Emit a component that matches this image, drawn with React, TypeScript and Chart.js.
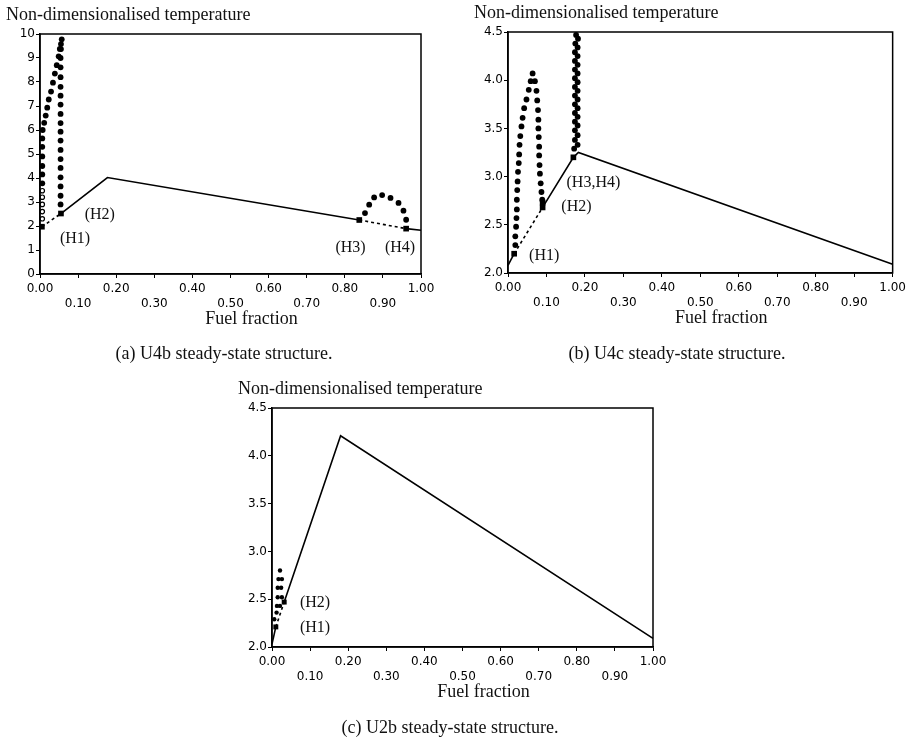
import React, { useEffect, useRef } from "react";
import { Chart, registerables } from "chart.js";

Chart.register(...registerables);

type Pt = [number, number];

// ---------- shared text ----------
const X_TICK_LABELS = ["0.00", "0.10", "0.20", "0.30", "0.40", "0.50", "0.60", "0.70", "0.80", "0.90", "1.00"];
const A_Y_TICK_LABELS = ["0", "1", "2", "3", "4", "5", "6", "7", "8", "9", "10"];
const BC_Y_TICK_LABELS = ["2.0", "2.5", "3.0", "3.5", "4.0", "4.5"];
const Y_TITLE = "Non-dimensionalised temperature";
const X_TITLE = "Fuel fraction";
const CAPTION_A = "(a) U4b steady-state structure.";
const CAPTION_B = "(b) U4c steady-state structure.";
const CAPTION_C = "(c) U2b steady-state structure.";

// ---------- (a) U4b ----------
const A_SOLID_1: Pt[] = [[0.055, 2.52], [0.177, 4.02], [0.838, 2.25]];
const A_SOLID_2: Pt[] = [[0.961, 1.89], [1.0, 1.82]];
const A_DASH_1: Pt[] = [[0.005, 1.97], [0.055, 2.52]];
const A_DASH_2: Pt[] = [[0.838, 2.25], [0.961, 1.89]];
const A_SQUARES: Pt[] = [[0.005, 1.97], [0.055, 2.52], [0.838, 2.25], [0.961, 1.89]];
const A_HOLLOW: Pt[] = [[0.006, 2.3], [0.006, 2.6], [0.006, 2.9], [0.006, 3.2], [0.006, 3.47]];
const A_LOOP: Pt[] = [
  [0.006, 3.78], [0.006, 4.15], [0.006, 4.5], [0.006, 4.9], [0.006, 5.3], [0.006, 5.65], [0.007, 6.0],
  [0.011, 6.3], [0.015, 6.6], [0.019, 6.93], [0.023, 7.27], [0.029, 7.6], [0.034, 7.97], [0.039, 8.35],
  [0.044, 8.7], [0.049, 9.07], [0.052, 9.38], [0.055, 9.58], [0.057, 9.78],
  [0.055, 9.37], [0.054, 9.0], [0.054, 8.61], [0.054, 8.2], [0.054, 7.8], [0.054, 7.43], [0.054, 7.06],
  [0.054, 6.67], [0.054, 6.29], [0.054, 5.93], [0.054, 5.56], [0.054, 5.17], [0.054, 4.79], [0.054, 4.42],
  [0.054, 4.03], [0.054, 3.65], [0.054, 3.26], [0.054, 2.9],
];
const A_ARC: Pt[] = [
  [0.853, 2.54], [0.864, 2.89], [0.877, 3.19], [0.898, 3.29], [0.92, 3.17],
  [0.941, 2.96], [0.954, 2.64], [0.961, 2.26],
];
const A_LABEL_TEXT = ["(H1)", "(H2)", "(H3)", "(H4)"];
const A_LABEL_POS: Pt[] = [[0.092, 1.47], [0.157, 2.47], [0.815, 1.1], [0.945, 1.1]];

// ---------- (b) U4c ----------
const B_SOLID_1: Pt[] = [[0.0, 2.08], [0.016, 2.2]];
const B_DASH: Pt[] = [[0.016, 2.2], [0.09, 2.68]];
const B_SOLID_2: Pt[] = [[0.09, 2.68], [0.17, 3.2], [0.183, 3.25], [1.0, 2.09]];
const B_SQUARES: Pt[] = [[0.016, 2.2], [0.09, 2.68], [0.09, 2.73], [0.17, 3.2]];
const B_LOOP: Pt[] = [
  [0.019, 2.29], [0.019, 2.38], [0.021, 2.48], [0.022, 2.57], [0.023, 2.66], [0.023, 2.76], [0.024, 2.86],
  [0.025, 2.95], [0.026, 3.05], [0.028, 3.14], [0.029, 3.23], [0.03, 3.33], [0.032, 3.42], [0.035, 3.52],
  [0.038, 3.61], [0.042, 3.71], [0.048, 3.8], [0.054, 3.9], [0.059, 3.99], [0.064, 4.07], [0.07, 3.99],
  [0.074, 3.89], [0.076, 3.79], [0.078, 3.69], [0.079, 3.59], [0.079, 3.5], [0.08, 3.41], [0.081, 3.31],
  [0.081, 3.22], [0.082, 3.12], [0.083, 3.03], [0.085, 2.93], [0.087, 2.84], [0.089, 2.76],
];
const B_COLUMN: Pt[] = [
  [0.172, 3.29], [0.181, 3.33], [0.174, 3.38], [0.181, 3.43], [0.174, 3.48], [0.181, 3.53], [0.174, 3.57],
  [0.181, 3.62], [0.174, 3.66], [0.181, 3.71], [0.174, 3.75], [0.181, 3.8], [0.174, 3.84], [0.181, 3.89],
  [0.174, 3.93], [0.181, 3.98], [0.174, 4.02], [0.181, 4.07], [0.174, 4.11], [0.181, 4.16], [0.174, 4.2],
  [0.181, 4.25], [0.174, 4.29], [0.181, 4.34], [0.175, 4.38], [0.182, 4.43], [0.177, 4.47],
];
const B_LABEL_TEXT = ["(H1)", "(H2)", "(H3,H4)"];
const B_LABEL_POS: Pt[] = [[0.094, 2.18], [0.178, 2.69], [0.222, 2.94]];

// ---------- (c) U2b ----------
const C_SOLID_1: Pt[] = [[0.0, 2.03], [0.01, 2.21]];
const C_DASH: Pt[] = [[0.01, 2.21], [0.032, 2.47]];
const C_SOLID_2: Pt[] = [[0.032, 2.47], [0.18, 4.21], [1.0, 2.09]];
const C_SQUARES: Pt[] = [[0.01, 2.21], [0.032, 2.47]];
const C_LOOP: Pt[] = [
  [0.006, 2.29], [0.012, 2.36], [0.013, 2.43], [0.021, 2.43], [0.015, 2.52], [0.026, 2.52],
  [0.015, 2.62], [0.024, 2.62], [0.017, 2.71], [0.026, 2.71], [0.021, 2.8],
];
const C_LABEL_TEXT = ["(H1)", "(H2)"];
const C_LABEL_POS: Pt[] = [[0.113, 2.2], [0.113, 2.46]];

// ---------- helpers ----------
const toXY = (a: Pt[]) => a.map(([x, y]) => ({ x, y }));

const lineSet = (a: Pt[], dashed = false) => ({
  data: toXY(a),
  showLine: true,
  borderColor: "#000",
  borderWidth: 1.6,
  borderDash: dashed ? [3, 3] : [],
  pointRadius: 0,
  fill: false,
  tension: 0,
  clip: false as const,
});

const dotSet = (a: Pt[], r: number, hollow = false) => ({
  data: toXY(a),
  showLine: false,
  pointStyle: "circle",
  pointRadius: r,
  pointBackgroundColor: hollow ? "#fff" : "#000",
  pointBorderColor: "#000",
  pointBorderWidth: hollow ? 1.2 : 0,
  clip: false as const,
});

const squareSet = (a: Pt[], r: number) => ({
  data: toXY(a),
  showLine: false,
  pointStyle: "rect",
  pointRadius: r,
  pointBackgroundColor: "#000",
  pointBorderWidth: 0,
  clip: false as const,
});

const serif = '"Liberation Serif", "Times New Roman", serif';

const figText = {
  id: "figText",
  afterDraw(chart: any, _args: any, opts: any) {
    const { ctx, chartArea: ca, scales } = chart;
    ctx.save();
    ctx.strokeStyle = "#000";
    ctx.lineWidth = 1.5;
    ctx.strokeRect(ca.left, ca.top, ca.right - ca.left, ca.bottom - ca.top);
    ctx.fillStyle = "#111";
    ctx.font = `16px ${serif}`;
    ctx.textAlign = "center";
    ctx.textBaseline = "middle";
    (opts.texts as string[]).forEach((t, i) => {
      const [x, y] = opts.pos[i];
      ctx.fillText(t, scales.x.getPixelForValue(x), scales.y.getPixelForValue(y));
    });
    ctx.textBaseline = "alphabetic";
    ctx.textAlign = "left";
    ctx.font = `18px ${serif}`;
    ctx.fillText(Y_TITLE, ca.left - 34, ca.top - 14);
    ctx.textAlign = "center";
    ctx.font = `18px ${serif}`;
    ctx.fillText(X_TITLE, (ca.left + ca.right) / 2 + 21, ca.bottom + 50);
    ctx.fillText(opts.caption, opts.capX, opts.capY);
    ctx.restore();
  },
};

const tickFont = { family: '"DejaVu Sans", sans-serif', size: 12, lineHeight: 1.25 };

function makeConfig(
  datasets: any[],
  yMin: number,
  yMax: number,
  yStep: number,
  yLabels: string[],
  padding: { left: number; right: number; top: number; bottom: number },
  textOpts: any
) {
  return {
    type: "scatter" as const,
    data: { datasets },
    options: {
      responsive: false,
      animation: false as const,
      devicePixelRatio: 1,
      layout: { padding },
      events: [] as any[],
      plugins: {
        legend: { display: false },
        tooltip: { enabled: false },
        figText: textOpts,
      },
      scales: {
        x: {
          type: "linear" as const,
          min: 0,
          max: 1,
          afterFit: (s: any) => {
            s.height = 52;
          },
          border: { display: true, color: "#000", width: 1.5 },
          grid: { display: true, drawOnChartArea: false, drawTicks: true, tickLength: 4, color: "#000", lineWidth: 1 },
          ticks: {
            stepSize: 0.1,
            autoSkip: false,
            maxRotation: 0,
            padding: 3,
            color: "#000",
            font: tickFont,
            callback: (_v: any, i: number) => (i % 2 === 1 ? ["", X_TICK_LABELS[i]] : X_TICK_LABELS[i]),
          },
        },
        y: {
          type: "linear" as const,
          min: yMin,
          max: yMax,
          afterFit: (s: any) => {
            s.width = 30;
          },
          border: { display: true, color: "#000", width: 1.5 },
          grid: { display: true, drawOnChartArea: false, drawTicks: true, tickLength: 4, color: "#000", lineWidth: 1 },
          ticks: {
            stepSize: yStep,
            autoSkip: false,
            padding: 1,
            color: "#000",
            font: tickFont,
            callback: (_v: any, i: number) => yLabels[i],
          },
        },
      },
    },
    plugins: [figText],
  };
}

function FigChart({ config }: { config: any }) {
  const ref = useRef<HTMLCanvasElement | null>(null);
  useEffect(() => {
    if (!ref.current) return;
    const chart = new Chart(ref.current, config);
    return () => chart.destroy();
  }, [config]);
  return (
    <canvas
      ref={ref}
      width={909}
      height={740}
      style={{ position: "absolute", left: 0, top: 0, width: 909, height: 740 }}
    />
  );
}

const CONFIG_A = makeConfig(
  [
    squareSet(A_SQUARES, 4),
    dotSet(A_LOOP, 2.9),
    dotSet(A_HOLLOW, 2.2, true),
    dotSet(A_ARC, 2.9),
    lineSet(A_SOLID_1),
    lineSet(A_SOLID_2),
    lineSet(A_DASH_1, true),
    lineSet(A_DASH_2, true),
  ],
  0,
  10,
  1,
  A_Y_TICK_LABELS,
  { left: 10, right: 488, top: 34, bottom: 740 - 274 - 52 },
  { texts: A_LABEL_TEXT, pos: A_LABEL_POS, caption: CAPTION_A, capX: 224, capY: 359 }
);

const CONFIG_B = makeConfig(
  [
    squareSet(B_SQUARES, 4),
    dotSet(B_LOOP, 2.9),
    dotSet(B_COLUMN, 2.9),
    lineSet(B_SOLID_1),
    lineSet(B_SOLID_2),
    lineSet(B_DASH, true),
  ],
  2,
  4.5,
  0.5,
  BC_Y_TICK_LABELS,
  { left: 478, right: 16, top: 32, bottom: 740 - 273 - 52 },
  { texts: B_LABEL_TEXT, pos: B_LABEL_POS, caption: CAPTION_B, capX: 677, capY: 359 }
);

const CONFIG_C = makeConfig(
  [
    squareSet(C_SQUARES, 3.5),
    dotSet(C_LOOP, 2.2),
    lineSet(C_SOLID_1),
    lineSet(C_SOLID_2),
    lineSet(C_DASH, true),
  ],
  2,
  4.5,
  0.5,
  BC_Y_TICK_LABELS,
  { left: 242, right: 256, top: 408, bottom: 740 - 647 - 52 },
  { texts: C_LABEL_TEXT, pos: C_LABEL_POS, caption: CAPTION_C, capX: 450, capY: 733 }
);

export default function App() {
  return (
    <div style={{ position: "absolute", left: 0, top: 0, width: 909, height: 740, background: "#fff" }}>
      <FigChart config={CONFIG_A} />
      <FigChart config={CONFIG_B} />
      <FigChart config={CONFIG_C} />
    </div>
  );
}
